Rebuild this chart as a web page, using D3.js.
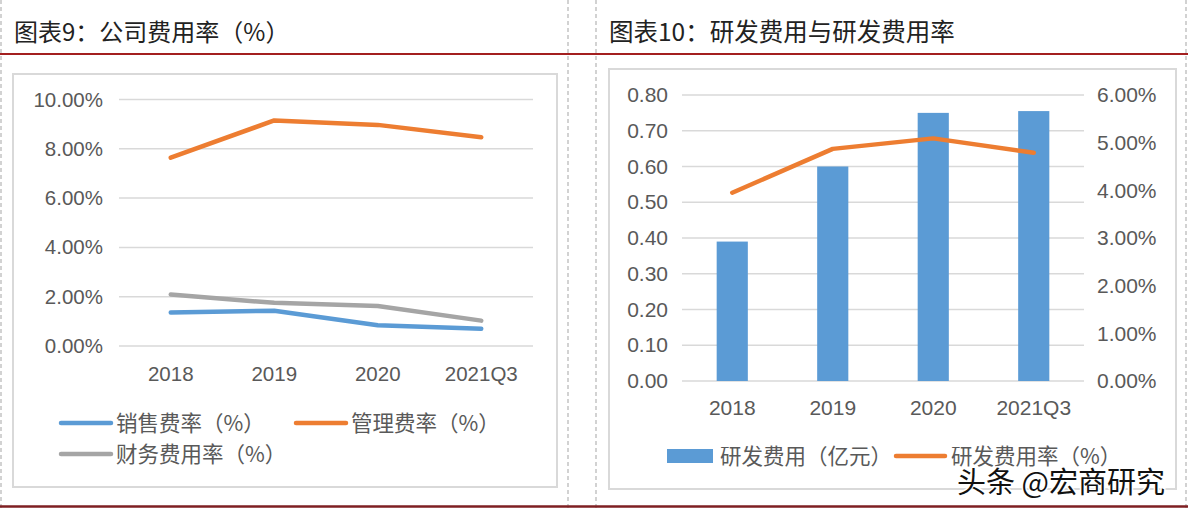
<!DOCTYPE html>
<html><head><meta charset="utf-8">
<script src="https://cdn.jsdelivr.net/npm/d3@7"></script>
<style>
html,body{margin:0;padding:0;background:#fff;}
svg{display:block;}
</style></head>
<body>
<svg id="c" width="1188" height="510"></svg>
<script>
// ---- data ----
const categories = ["2018", "2019", "2020", "2021Q3"];
const salesRate = [1.36, 1.43, 0.84, 0.70];      // 销售费率（%）
const mgmtRate = [7.64, 9.15, 8.97, 8.47];       // 管理费率（%）
const finRate = [2.09, 1.75, 1.62, 1.03];        // 财务费用率（%）
const rdExpense = [0.39, 0.60, 0.75, 0.755];     // 研发费用（亿元）
const rdRate = [3.95, 4.87, 5.09, 4.79];         // 研发费用率（%）
const leftTicks = [0, 2, 4, 6, 8, 10];
const rdTicks = [0, 0.1, 0.2, 0.3, 0.4, 0.5, 0.6, 0.7, 0.8];
const rdRateTicks = [0, 1, 2, 3, 4, 5, 6];
const title1 = "图表9：公司费用率（%）";
const title2 = "图表10：研发费用与研发费用率";
const leftSeries = [
  {name: "销售费率（%）", values: salesRate, color: "#5B9BD5"},
  {name: "管理费率（%）", values: mgmtRate, color: "#ED7D31"},
  {name: "财务费用率（%）", values: finRate, color: "#A5A5A5"}
];

const svg = d3.select("#c");
const cjk = "'Noto Sans CJK SC','Noto Sans',sans-serif";
const latin = "'Liberation Sans',Arial,sans-serif";
const tickColor = "#595959";
const gridColor = "#d9d9d9";

// ---- page frame ----
[1, 568, 596, 1186].forEach(x => {
  svg.append("line").attr("x1", x).attr("x2", x).attr("y1", 0).attr("y2", 510)
    .attr("stroke", "#c4c4c4").attr("stroke-width", 1.5).attr("stroke-dasharray", "4,3");
});
svg.append("line").attr("x1", 0).attr("x2", 1188).attr("y1", 54).attr("y2", 54)
  .attr("stroke", "#A31F1F").attr("stroke-width", 2);
svg.append("line").attr("x1", 0).attr("x2", 1188).attr("y1", 506.5).attr("y2", 506.5)
  .attr("stroke", "#7E1F22").attr("stroke-width", 2.5);

svg.append("text").attr("x", 14).attr("y", 41).text(title1)
  .attr("font-family", cjk).attr("font-size", 24).attr("fill", "#222");
svg.append("text").attr("x", 609).attr("y", 41).text(title2)
  .attr("font-family", cjk).attr("font-size", 24.5).attr("fill", "#222");

svg.append("rect").attr("x", 13).attr("y", 74).attr("width", 544).attr("height", 413)
  .attr("fill", "none").attr("stroke", gridColor).attr("stroke-width", 2);
svg.append("rect").attr("x", 609).attr("y", 69).attr("width", 567).attr("height", 420)
  .attr("fill", "none").attr("stroke", gridColor).attr("stroke-width", 2);

// ---- left chart ----
const x1 = d3.scaleBand().domain(categories).range([119, 533]);
const y1 = d3.scaleLinear().domain([0, 10]).range([346, 99.5]);

const g1 = svg.append("g");
g1.append("g").selectAll("line").data(leftTicks).join("line")
  .attr("x1", 119).attr("x2", 533)
  .attr("y1", d => y1(d)).attr("y2", d => y1(d))
  .attr("stroke", gridColor).attr("stroke-width", 1.5);

const yAx1 = g1.append("g").attr("transform", "translate(119,0)")
  .call(d3.axisLeft(y1).tickValues(leftTicks).tickSize(0).tickPadding(16)
    .tickFormat(d => d.toFixed(2) + "%"));
yAx1.select(".domain").remove();
yAx1.selectAll("text").attr("font-family", latin).attr("font-size", 20.5).attr("fill", tickColor);

const xAx1 = g1.append("g").attr("transform", "translate(0,346)")
  .call(d3.axisBottom(x1).tickSize(0).tickPadding(20));
xAx1.select(".domain").remove();
xAx1.selectAll("text").attr("font-family", latin).attr("font-size", 20.5).attr("fill", tickColor);

const line1 = d3.line().x((d, i) => x1(categories[i]) + x1.bandwidth() / 2).y(d => y1(d));
[leftSeries[2], leftSeries[0], leftSeries[1]].forEach(s => {
  g1.append("path").attr("d", line1(s.values)).attr("fill", "none")
    .attr("stroke", s.color).attr("stroke-width", 4.5)
    .attr("stroke-linejoin", "round").attr("stroke-linecap", "round");
});

// legend left
const legPos = [[61, 423], [296, 423], [61, 454]];
leftSeries.forEach((s, i) => {
  const [lx, ly] = legPos[i];
  svg.append("line").attr("x1", lx).attr("x2", lx + 50).attr("y1", ly).attr("y2", ly)
    .attr("stroke", s.color).attr("stroke-width", 4.5).attr("stroke-linecap", "round");
  svg.append("text").attr("x", lx + 55).attr("y", ly + 7.5).text(s.name)
    .attr("font-family", cjk).attr("font-size", 21.5).attr("fill", tickColor);
});

// ---- right chart ----
const x2 = d3.scaleBand().domain(categories).range([682, 1084]).paddingInner(0.69).paddingOuter(0.345);
const y2 = d3.scaleLinear().domain([0, 0.8]).range([381, 95]);
const y2r = d3.scaleLinear().domain([0, 6]).range([381, 95]);

const g2 = svg.append("g");
g2.append("g").selectAll("line").data(rdTicks).join("line")
  .attr("x1", 682).attr("x2", 1084)
  .attr("y1", d => y2(d)).attr("y2", d => y2(d))
  .attr("stroke", gridColor).attr("stroke-width", 1.5);

const yAx2 = g2.append("g").attr("transform", "translate(682,0)")
  .call(d3.axisLeft(y2).tickValues(rdTicks).tickSize(0).tickPadding(14)
    .tickFormat(d => d.toFixed(2)));
yAx2.select(".domain").remove();
yAx2.selectAll("text").attr("font-family", latin).attr("font-size", 21).attr("fill", tickColor);

const yAx2r = g2.append("g").attr("transform", "translate(1084,0)")
  .call(d3.axisRight(y2r).tickValues(rdRateTicks).tickSize(0).tickPadding(13)
    .tickFormat(d => d.toFixed(2) + "%"));
yAx2r.select(".domain").remove();
yAx2r.selectAll("text").attr("font-family", latin).attr("font-size", 21).attr("fill", tickColor);

const xAx2 = g2.append("g").attr("transform", "translate(0,381)")
  .call(d3.axisBottom(x2).tickSize(0).tickPadding(19));
xAx2.select(".domain").remove();
xAx2.selectAll("text").attr("font-family", latin).attr("font-size", 21).attr("fill", tickColor);

g2.append("g").selectAll("rect").data(rdExpense).join("rect")
  .attr("x", (d, i) => x2(categories[i]))
  .attr("width", x2.bandwidth())
  .attr("y", d => y2(d))
  .attr("height", d => y2(0) - y2(d))
  .attr("fill", "#5B9BD5");

const line2 = d3.line().x((d, i) => x2(categories[i]) + x2.bandwidth() / 2).y(d => y2r(d));
g2.append("path").attr("d", line2(rdRate)).attr("fill", "none")
  .attr("stroke", "#ED7D31").attr("stroke-width", 4.5)
  .attr("stroke-linejoin", "round").attr("stroke-linecap", "round");

// legend right
svg.append("rect").attr("x", 667).attr("y", 449).attr("width", 46).attr("height", 14).attr("fill", "#5B9BD5");
svg.append("text").attr("x", 720).attr("y", 463.5).text("研发费用（亿元）")
  .attr("font-family", cjk).attr("font-size", 21.5).attr("fill", tickColor);
svg.append("line").attr("x1", 896).attr("x2", 945).attr("y1", 456).attr("y2", 456)
  .attr("stroke", "#ED7D31").attr("stroke-width", 4.5).attr("stroke-linecap", "round");
svg.append("text").attr("x", 951).attr("y", 463.5).text("研发费用率（%）")
  .attr("font-family", cjk).attr("font-size", 21.5).attr("fill", tickColor);

// watermark
svg.append("text").attr("x", 957).attr("y", 493).text("头条 @宏商研究")
  .attr("font-family", cjk).attr("font-size", 29).attr("fill", "#111")
  .attr("stroke", "#fff").attr("stroke-width", 3).attr("paint-order", "stroke");
</script>
</body></html>
